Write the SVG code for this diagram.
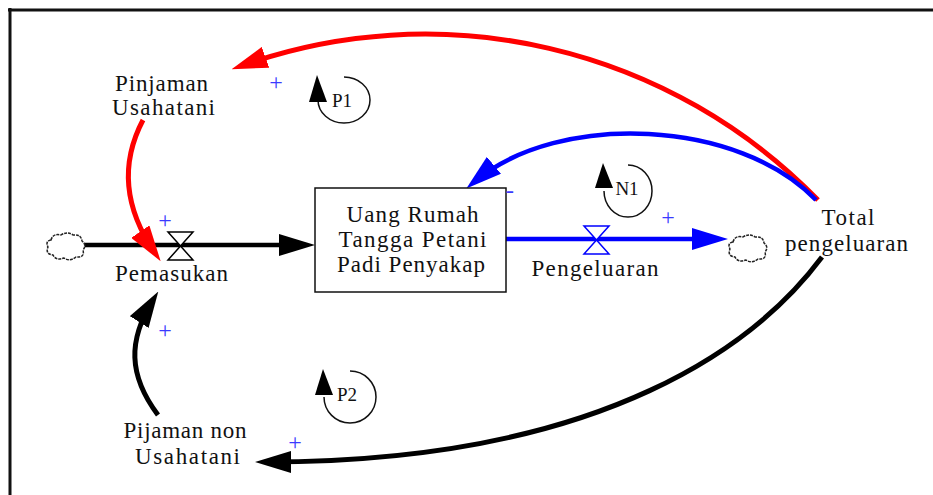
<svg xmlns="http://www.w3.org/2000/svg" width="933" height="495" viewBox="0 0 933 495">
<style>
.lbl{font-family:"Liberation Serif","Times New Roman",serif;font-size:23px;fill:#111;text-anchor:middle}
.loop{font-family:"Liberation Serif","Times New Roman",serif;font-size:19px;fill:#111;text-anchor:middle}
.sign{font-family:"Liberation Serif","Times New Roman",serif;font-size:24px;fill:#3a3aff;text-anchor:middle}
.cloud{fill:#fff;stroke:#222;stroke-width:1.5;stroke-dasharray:3 1}
.valve{fill:#fff;stroke-width:1.5}
.arc{fill:none;stroke:#111;stroke-width:1.5}
</style>
<defs>
<marker id="ah-black" markerUnits="userSpaceOnUse" markerWidth="36" markerHeight="22" refX="26" refY="11" orient="auto"><path d="M0,0 L36,11 L0,22 Z" fill="#000"/></marker>
<marker id="ah-red" markerUnits="userSpaceOnUse" markerWidth="36" markerHeight="22" refX="26" refY="11" orient="auto"><path d="M0,0 L36,11 L0,22 Z" fill="#ff0000"/></marker>
<marker id="ah-blue" markerUnits="userSpaceOnUse" markerWidth="36" markerHeight="22" refX="26" refY="11" orient="auto"><path d="M0,0 L36,11 L0,22 Z" fill="#0000ff"/></marker>
<path id="cloudShape" d="M5,8 Q7,1 15,3 Q21,-1 27,3 Q35,2 36,9 Q41,13 37,18 Q39,26 30,25 Q24,30 18,26 Q10,29 7,23 Q-1,22 2,15 Q-1,9 5,8 Z"/>
</defs>
<rect width="933" height="495" fill="#fff"/>
<g id="frame" stroke="#111" stroke-width="3" fill="none">
<path d="M8,10 H933"/>
<path d="M10,8 V495"/>
</g>
<g id="connectors" fill="none">
<path d="M84,245 H305" stroke="#000" stroke-width="4.5" marker-end="url(#ah-black)"/>
<path d="M506,239 H718" stroke="#0000ff" stroke-width="4.5" marker-end="url(#ah-blue)"/>
<path d="M818,200 A548,548 0 0 0 241,66" stroke="#ff0000" stroke-width="5" marker-end="url(#ah-red)"/>
<path d="M143,120 C122,160 122,205 155,253" stroke="#ff0000" stroke-width="5" marker-end="url(#ah-red)"/>
<path d="M816,200 C740,120 560,110 474,182" stroke="#0000ff" stroke-width="4.5" marker-end="url(#ah-blue)"/>
<path d="M822,257 C760,340 610,462 265,462" stroke="#000" stroke-width="5" marker-end="url(#ah-black)"/>
<path d="M158,415 C128,375 128,340 153,300" stroke="#000" stroke-width="5" marker-end="url(#ah-black)"/>
</g>
<g id="cloud-source"><use href="#cloudShape" class="cloud" transform="translate(46,232)"/></g>
<g id="cloud-sink"><use href="#cloudShape" class="cloud" transform="translate(728,234)"/></g>
<g id="pemasukan">
<path class="valve" stroke="#000" d="M168,232 H193 L168,260 H193 Z"/>
<text class="lbl" x="171.5" y="281" textLength="113" lengthAdjust="spacing">Pemasukan</text>
</g>
<g id="pengeluaran">
<path class="valve" stroke="#0000ff" d="M584,226 H609 L584,254 H609 Z"/>
<text class="lbl" x="595" y="276" textLength="127" lengthAdjust="spacing">Pengeluaran</text>
</g>
<g id="stock">
<rect x="315" y="188" width="191" height="104" fill="#fff" stroke="#111" stroke-width="1.5"/>
<text class="lbl" x="412.5" y="222" textLength="132" lengthAdjust="spacing">Uang Rumah</text>
<text class="lbl" x="412.5" y="247" textLength="148" lengthAdjust="spacing">Tangga Petani</text>
<text class="lbl" x="411" y="272" textLength="148" lengthAdjust="spacing">Padi Penyakap</text>
</g>
<g id="total-pengeluaran">
<text class="lbl" x="848" y="225" textLength="53" lengthAdjust="spacing">Total</text>
<text class="lbl" x="846.5" y="251" textLength="123" lengthAdjust="spacing">pengeluaran</text>
</g>
<g id="pinjaman-usahatani">
<text class="lbl" x="161.5" y="91" textLength="93" lengthAdjust="spacing">Pinjaman</text>
<text class="lbl" x="163.5" y="115" textLength="103" lengthAdjust="spacing">Usahatani</text>
</g>
<g id="pijaman-non-usahatani">
<text class="lbl" x="185" y="438" textLength="123" lengthAdjust="spacing">Pijaman non</text>
<text class="lbl" x="187.5" y="464" textLength="105" lengthAdjust="spacing">Usahatani</text>
</g>
<g id="loop-P1">
<path class="arc" d="M344,77 A26,23 0 1 1 318,100"/>
<polygon points="317,75 309,102 327,102" fill="#000"/>
<text class="loop" x="342" y="107">P1</text>
</g>
<g id="loop-N1">
<path class="arc" d="M628,165 A24,26 0 1 1 604,191"/>
<polygon points="603,163 595,188 613,188" fill="#000"/>
<text class="loop" x="627" y="195">N1</text>
</g>
<g id="loop-P2">
<path class="arc" d="M350,371 A26,26 0 1 1 324,397"/>
<polygon points="323,369 315,395 333,395" fill="#000"/>
<text class="loop" x="347" y="401">P2</text>
</g>
<g id="polarities">
<text class="sign" x="165" y="228">+</text>
<text class="sign" x="668" y="225">+</text>
<text class="sign" x="276" y="90">+</text>
<text class="sign" x="165" y="338">+</text>
<text class="sign" x="295" y="450">+</text>
<text class="sign" x="510" y="198">-</text>
</g>
</svg>
